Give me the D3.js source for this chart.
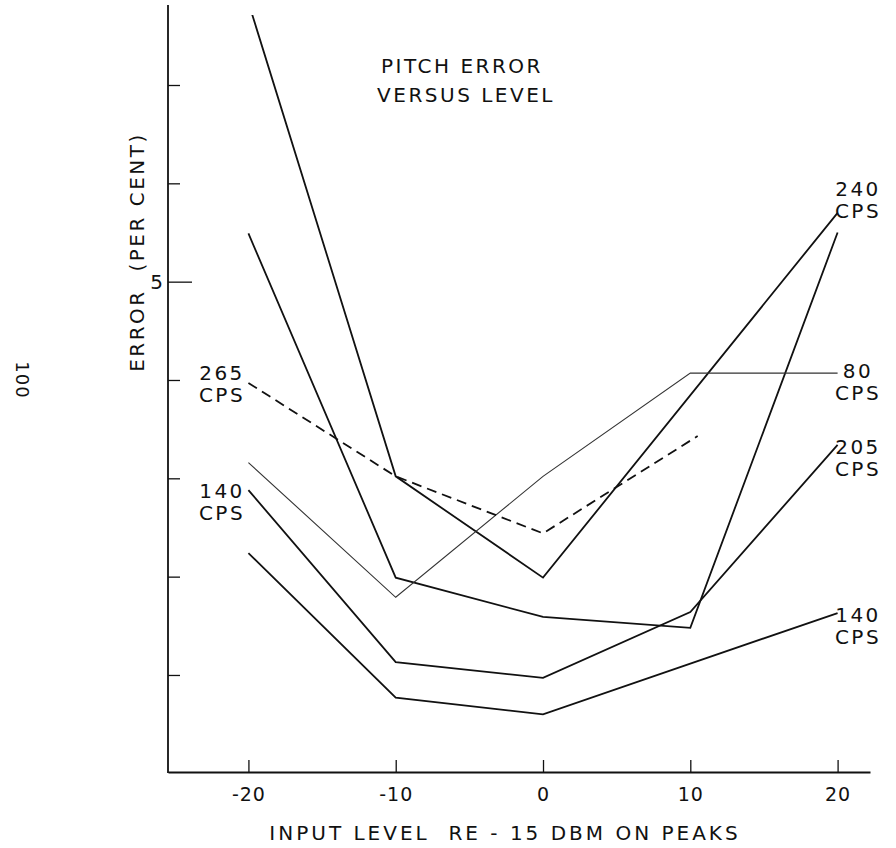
<!DOCTYPE html>
<html><head><meta charset="utf-8">
<script src="https://cdn.jsdelivr.net/npm/d3@7"></script>
<style>
body{margin:0;background:#fff}
svg text{font-family:"DejaVu Sans",sans-serif;fill:#111}
</style>
</head><body>
<svg id="c" width="896" height="848"></svg>
<script>
// ---- data ----
const levels = [-20, -10, 0, 10, 20];
const xTickLabels = ["-20", "-10", "0", "10", "20"];
const yTicks = [1, 2, 3, 4, 5, 6, 7];
const s240a = [7.84, 3.02, 1.99, null, 5.70];
const s240b = [5.49, 1.99, 1.59, 1.48, 5.50];
const s80   = [3.16, 1.79, 3.02, 4.07, 4.07];
const s265Levels = [-20, -10, 0, 10.5];
const s265  = [3.97, 3.02, 2.44, 3.43];
const s205  = [2.88, 1.13, 0.97, 1.64, 3.34];
const s140  = [2.24, 0.77, 0.60, null, 1.63];
const labelLeft  = ["265", "140"];
const labelRight = ["240", "80", "205", "140"];
const unit = "CPS";

const svg = d3.select("#c");
const x = d3.scaleLinear().domain([-25.46, 22.2]).range([168, 870]);
const y = d3.scaleLinear().domain([0, 7]).range([773.3, 85]);

function pts(xs, vs){ return xs.map((l,i)=>({l, v:vs[i]})).filter(d=>d.v!=null); }
const line = d3.line().x(d=>x(d.l)).y(d=>y(d.v));

svg.append("clipPath").attr("id","clip").append("rect")
  .attr("x",168).attr("y",15).attr("width",728).attr("height",758);

const series = [
  {d: pts(levels, s240a), w:1.8, dash:null, c:"#111"},
  {d: pts(levels, s240b), w:1.8, dash:null, c:"#111"},
  {d: pts(levels, s80),   w:1.1, dash:null, c:"#333"},
  {d: pts(s265Levels, s265), w:1.8, dash:"10,6", c:"#111"},
  {d: pts(levels, s205),  w:1.8, dash:null, c:"#111"},
  {d: pts(levels, s140),  w:1.8, dash:null, c:"#111"}
];
const gl = svg.append("g").attr("clip-path","url(#clip)");
series.forEach(s=>{
  gl.append("path").attr("d", line(s.d)).attr("fill","none")
    .attr("stroke", s.c).attr("stroke-width", s.w)
    .attr("stroke-dasharray", s.dash).attr("stroke-linejoin","miter");
});

// axes
svg.append("line").attr("x1",168).attr("x2",168).attr("y1",5).attr("y2",773)
  .attr("stroke","#111").attr("stroke-width",1.8);
const ya = svg.append("g").attr("transform","translate(168,0)")
  .call(d3.axisLeft(y).tickValues(yTicks).tickSizeInner(-12).tickSizeOuter(0)
        .tickPadding(5).tickFormat(d=> d===5 ? "5" : ""));
ya.select(".domain").remove();
ya.selectAll(".tick line").attr("stroke","#111").attr("stroke-width",1.3)
  .attr("x2", d=> d===5 ? 24 : 12);
ya.selectAll(".tick text").attr("font-size",20).attr("font-family","DejaVu Sans").attr("fill","#111");

const xa = svg.append("g").attr("transform","translate(0,772)")
  .call(d3.axisBottom(x).tickValues(levels).tickSizeInner(-12).tickSizeOuter(0)
        .tickPadding(16).tickFormat((d,i)=>xTickLabels[i]));
xa.select(".domain").attr("stroke","#111").attr("stroke-width",1.8);
xa.selectAll(".tick line").attr("stroke","#111").attr("stroke-width",1.3);
xa.selectAll(".tick text").attr("font-size",19).attr("font-family","DejaVu Sans")
  .attr("fill","#111").attr("letter-spacing",1);

// titles
const tstyle = t => t.attr("font-size",20).attr("letter-spacing",2.5);
svg.append("text").attr("x",462).attr("y",73).attr("text-anchor","middle").text("PITCH ERROR").call(tstyle);
svg.append("text").attr("x",466).attr("y",102).attr("text-anchor","middle").text("VERSUS LEVEL").call(tstyle);
svg.append("text").attr("transform","translate(144,252) rotate(-90)").attr("text-anchor","middle")
  .attr("xml:space","preserve").style("white-space","pre")
  .text("ERROR  (PER CENT)").call(tstyle);
svg.append("text").attr("x",505).attr("y",840).attr("text-anchor","middle")
  .attr("xml:space","preserve").style("white-space","pre")
  .text("INPUT LEVEL  RE - 15 DBM ON PEAKS").attr("font-size",20).attr("letter-spacing",3);
svg.append("text").attr("transform","translate(16,380) rotate(90)").attr("text-anchor","middle")
  .attr("font-size",18).attr("letter-spacing",1).text("100");

// series labels
function lab(tx, tyTop, name){
  svg.append("text").attr("x",tx).attr("y",tyTop).attr("text-anchor","middle").text(name).call(tstyle);
  svg.append("text").attr("x",tx).attr("y",tyTop+22).attr("text-anchor","middle").text(unit).call(tstyle);
}
lab(222, 380, labelLeft[0]);
lab(222, 498, labelLeft[1]);
lab(858, 196, labelRight[0]);
lab(858, 378, labelRight[1]);
lab(858, 454, labelRight[2]);
lab(858, 622, labelRight[3]);
</script>
</body></html>
